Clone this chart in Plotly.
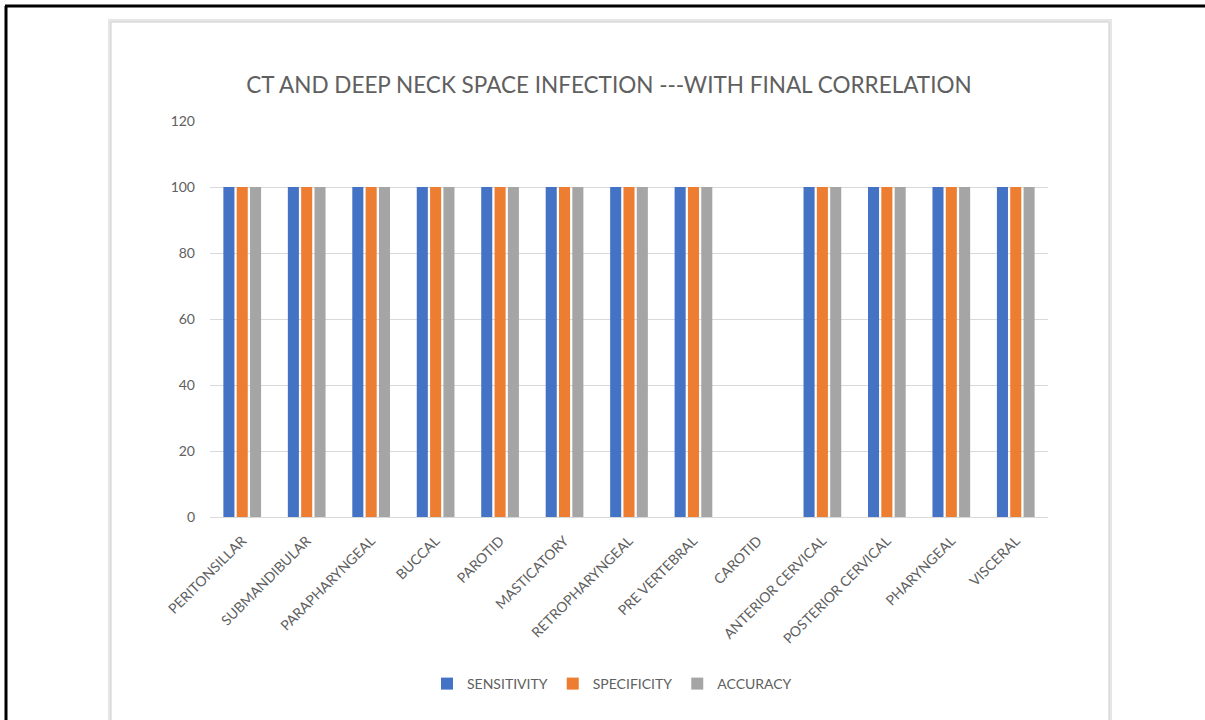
import plotly.graph_objects as go

categories = ["PERITONSILLAR", "SUBMANDIBULAR", "PARAPHARYNGEAL", "BUCCAL", "PAROTID",
              "MASTICATORY", "RETROPHARYNGEAL", "PRE VERTEBRAL", "CAROTID",
              "ANTERIOR CERVICAL", "POSTERIOR CERVICAL", "PHARYNGEAL", "VISCERAL"]
sensitivity = [100, 100, 100, 100, 100, 100, 100, 100, None, 100, 100, 100, 100]
specificity = [100, 100, 100, 100, 100, 100, 100, 100, None, 100, 100, 100, 100]
accuracy = [100, 100, 100, 100, 100, 100, 100, 100, None, 100, 100, 100, 100]
y_ticks = [0, 20, 40, 60, 80, 100, 120]

W, H = 1205, 720
L, R, T, B = 210, 1048, 121, 517  # plot area in pixels


def px(x):
    return (x - L) / (R - L)


def py(y):
    return (B - y) / (B - T)


FONT = "Lato, 'Open Sans', sans-serif"
TXT = "#606060"

fig = go.Figure()
for name, vals, col in [("SENSITIVITY", sensitivity, "#4472C4"),
                        ("SPECIFICITY", specificity, "#ED7D31"),
                        ("ACCURACY", accuracy, "#A5A5A5")]:
    fig.add_trace(go.Bar(x=categories, y=vals, name=name,
                         marker=dict(color=col, line=dict(width=0))))

shapes = [
    # chart card shadow + border
    dict(type="rect", xref="paper", yref="paper", x0=px(108), x1=px(1112), y0=py(730), y1=py(19),
         fillcolor="#e6e6e6", line=dict(width=0), layer="below"),
    dict(type="rect", xref="paper", yref="paper", x0=px(111), x1=px(1109), y0=py(730), y1=py(22),
         fillcolor="white", line=dict(color="#cfcfcf", width=1), layer="below"),
    # outer frame
    dict(type="line", xref="paper", yref="paper", x0=px(6), x1=px(6), y0=py(6), y1=py(725),
         line=dict(color="black", width=3)),
    dict(type="line", xref="paper", yref="paper", x0=px(5), x1=px(1210), y0=py(6), y1=py(6),
         line=dict(color="black", width=3)),
]

fig.update_layout(
    width=W, height=H,
    margin=dict(l=L, r=W - R, t=T, b=H - B, pad=0),
    paper_bgcolor="white", plot_bgcolor="rgba(0,0,0,0)",
    barmode="group", bargap=0.38, bargroupgap=0.17,
    font=dict(family=FONT, color=TXT, size=13),
    title=dict(text="CT AND DEEP NECK SPACE INFECTION ---WITH FINAL CORRELATION",
               x=609 / W, xref="container", xanchor="center",
               y=1 - 85 / H, yref="container", yanchor="middle",
               font=dict(family=FONT, size=22.5, color=TXT)),
    legend=dict(orientation="h", x=px(612), xanchor="center", y=py(684), yanchor="middle",
                font=dict(family=FONT, size=14, color=TXT), itemwidth=30,
                traceorder="normal", bgcolor="rgba(0,0,0,0)"),
    shapes=shapes,
    xaxis=dict(tickangle=-45, showgrid=False, showline=False, ticks="",
               ticklabelstandoff=12,
               tickfont=dict(family=FONT, size=14, color=TXT), zeroline=False),
    yaxis=dict(range=[0, 120], tickvals=y_ticks, showgrid=True, gridcolor="#d9d9d9",
               gridwidth=1, zeroline=True, zerolinecolor="#d9d9d9", zerolinewidth=1,
               ticks="", ticklabelstandoff=14,
               tickfont=dict(family=FONT, size=14, color=TXT)),
)

fig.write_html("out.html")
